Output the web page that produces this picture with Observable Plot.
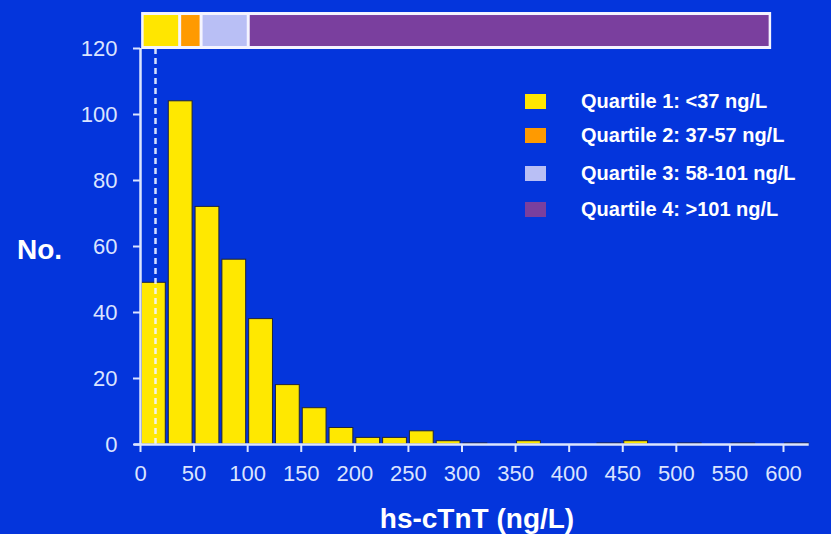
<!DOCTYPE html>
<html><head><meta charset="utf-8">
<script src="https://cdn.jsdelivr.net/npm/d3@7"></script>
<script src="https://cdn.jsdelivr.net/npm/@observablehq/plot@0.6"></script>
<style>
html,body{margin:0;padding:0;background:#0435dc;}
#wrap{position:relative;width:831px;height:534px;overflow:hidden;font-family:"Liberation Sans",Arial,sans-serif;background:#0435dc;}
#wrap svg{position:absolute;left:0;top:0;}
.ylab{position:absolute;left:17px;top:236px;font-weight:bold;font-size:28px;line-height:28px;color:#fff;}
.xlab{position:absolute;left:477px;top:505px;transform:translateX(-50%);font-weight:bold;font-size:28px;line-height:28px;color:#fff;white-space:nowrap;}
.legrow{position:absolute;left:525px;height:20px;display:flex;align-items:center;}
.legsw{width:21px;height:15px;}
.legtx{position:absolute;left:56px;white-space:nowrap;font-weight:bold;font-size:20px;color:#fff;}
</style></head>
<body>
<div id="wrap"></div>
<script>
// Histogram bins (ng/L) and counts
const binStart = [0,25,50,75,100,125,150,175,200,225,250,275,300,325,350,375,400,425,450,475,500,525,550,575,600];
const binWidth = 25;
const counts = [49,104,72,56,38,18,11,5,2,2,4,1,0.3,0,1,0,0,0.3,1,0,0.3,0,0.3,0,0.3];
const xTicks = [0,50,100,150,200,250,300,350,400,450,500,550,600];
const yTicks = [0,20,40,60,80,100,120];
// Quartile band
const quartileLabels = ["Quartile 1: <37 ng/L","Quartile 2: 37-57 ng/L","Quartile 3: 58-101 ng/L","Quartile 4: >101 ng/L"];
const quartileStart = [2,37,57,101];
const quartileEnd = [37,57,101,588];
const quartileColors = ["#ffe600","#ff9a00","#b9bff5","#7a3f9e"];
const bandBottom = 120, bandTop = 130.6;
const urlValue = 14; // dashed reference line

const bins = binStart.map((s,i)=>({x1:s, x2:s+binWidth, y:counts[i]}));
const quart = quartileStart.map((s,i)=>({x1:s, x2:quartileEnd[i], c:quartileColors[i]}));
const axisColor = "#dbe4ff";

const chart = Plot.plot({
  width: 831, height: 534,
  marginLeft: 140, marginRight: 48, marginTop: 48, marginBottom: 90,
  style: {background:"transparent", color: axisColor, fontFamily:'"Liberation Sans", Arial, sans-serif', fontSize:"22px", overflow:"visible"},
  x: {domain:[0,600]},
  y: {domain:[0,120]},
  marks: [
    Plot.rectY(bins, {x1:"x1", x2:"x2", y:"y", fill:"#ffe800", stroke:"#20243a", strokeWidth:1, insetLeft:1.5, insetRight:1.5}),
    Plot.ruleX([urlValue], {y1:0, y2:120, stroke:"#f0f4ff", strokeWidth:2.5, strokeDasharray:"6,4", strokeOpacity:0.9}),
    Plot.ruleY([0], {x1:-5.5, x2:624, stroke:axisColor, strokeWidth:2.5}),
    Plot.ruleX([0], {y1:0, y2:120, stroke:axisColor, strokeWidth:2.5}),
    Plot.axisX({ticks:xTicks, tickSize:8, tickPadding:13, fontSize:22, label:null, stroke:axisColor, strokeWidth:2}),
    Plot.axisY({ticks:yTicks, tickSize:7, tickPadding:16, fontSize:22, label:null, stroke:axisColor, strokeWidth:2}),
    Plot.rect([{x1:quartileStart[0], x2:quartileEnd[3]}], {x1:"x1", x2:"x2", y1:bandBottom, y2:bandTop, fill:"#f4f4ff", stroke:"#f4f4ff", strokeWidth:2}),
    Plot.rect(quart, {x1:"x1", x2:"x2", y1:bandBottom, y2:bandTop, fill:"c", insetLeft:1.5, insetRight:1.5, insetTop:2, insetBottom:2})
  ]
});
const wrap = document.getElementById("wrap");
wrap.appendChild(chart);

const yl = document.createElement("div"); yl.className="ylab"; yl.textContent="No."; wrap.appendChild(yl);
const xl = document.createElement("div"); xl.className="xlab"; xl.textContent="hs-cTnT (ng/L)"; wrap.appendChild(xl);

const legendTops = [91, 125, 163, 199];
quartileLabels.forEach((lab,i)=>{
  const row = document.createElement("div"); row.className="legrow"; row.style.top = legendTops[i]+"px";
  const sw = document.createElement("div"); sw.className="legsw"; sw.style.background = quartileColors[i];
  const tx = document.createElement("div"); tx.className="legtx"; tx.textContent = lab;
  row.appendChild(sw); row.appendChild(tx); wrap.appendChild(row);
});
</script>
</body></html>
